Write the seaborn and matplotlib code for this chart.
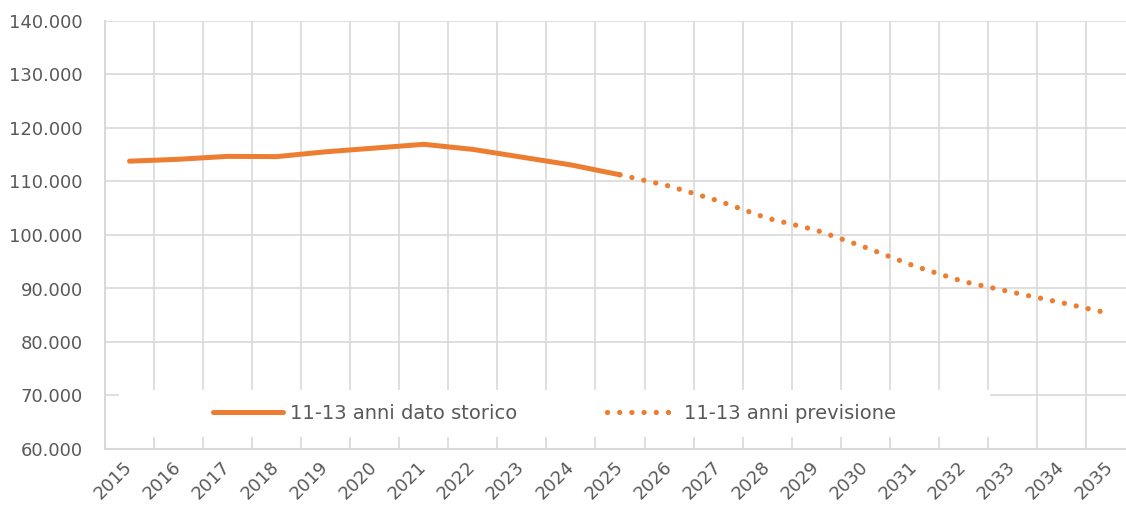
import matplotlib
matplotlib.use("Agg")
import matplotlib.pyplot as plt
import matplotlib.ticker as mticker
from matplotlib.patches import Rectangle
import pandas as pd
import seaborn as sns

# data
years_hist = [2015, 2016, 2017, 2018, 2019, 2020, 2021, 2022, 2023, 2024, 2025]
hist = [113800, 114150, 114700, 114650, 115550, 116250, 116950, 116000, 114550, 113100, 111250]
years_prev = [2025, 2026, 2027, 2028, 2029, 2030, 2031, 2032, 2033, 2034, 2035]
prev = [111250, 109150, 106400, 103150, 100900, 97700, 94200, 91300, 89300, 87350, 85300]
label_hist = "11-13 anni dato storico"
label_prev = "11-13 anni previsione"
all_years = list(range(2015, 2036))

df_hist = pd.DataFrame({"anno": years_hist, "valore": hist})
df_prev = pd.DataFrame({"anno": years_prev, "valore": prev})

sns.set_theme(style="white")
plt.rcParams["font.family"] = ["DejaVu Sans"]

orange = "#ED7D31"
grid_c = "#D9D9D9"
text_c = "#595959"

fig = plt.figure(figsize=(11.26, 5.11), dpi=100)
W, H = 1126, 511
ax = fig.add_axes([105 / W, (H - 449) / H, 1030 / W, 428 / H])

sns.lineplot(data=df_hist, x="anno", y="valore", ax=ax, color=orange,
             linewidth=3.6, solid_capstyle="round", label=label_hist, zorder=3)
sns.lineplot(data=df_prev, x="anno", y="valore", ax=ax, color=orange,
             linewidth=3.8, dashes=False, label=label_prev, zorder=3)
# make the forecast dotted
ln = ax.get_lines()[1]
ln.set_linestyle((0, (0.01, 2.3)))
ln.set_dash_capstyle("round")

ax.set_xlim(2014.5, 2035.5)
ax.set_ylim(60000, 140000)
ax.set_xticks(all_years)
ax.set_xticks([y + 0.5 for y in all_years[:-1]], minor=True)
ax.set_yticks(range(60000, 140001, 10000))
ax.yaxis.set_major_formatter(mticker.FuncFormatter(lambda v, p: f"{int(v):,}".replace(",", ".")))

ax.grid(False)
ax.grid(axis="y", which="major", color=grid_c, linewidth=1.2)
ax.grid(axis="x", which="minor", color=grid_c, linewidth=1.2)
ax.set_axisbelow(True)

for s in ["top", "right"]:
    ax.spines[s].set_visible(False)
for s in ["left", "bottom"]:
    ax.spines[s].set_color(grid_c)
    ax.spines[s].set_linewidth(1.5)

ax.tick_params(axis="both", which="both", length=0)
ax.tick_params(axis="y", labelsize=13, labelcolor=text_c, pad=16)
ax.tick_params(axis="x", labelsize=13, labelcolor=text_c, pad=11)
for lab in ax.get_xticklabels():
    lab.set_rotation(45)
    lab.set_ha("right")
    lab.set_va("center")
    lab.set_rotation_mode("anchor")

ax.set_xlabel("")
ax.set_ylabel("")

# white legend area covering the grid
x0, x1 = (119 - 105) / 1030, (990 - 105) / 1030
y0, y1 = (449 - 437) / 428, (449 - 390) / 428
ax.add_patch(Rectangle((x0, y0), x1 - x0, y1 - y0, transform=ax.transAxes,
                       facecolor="white", edgecolor="none", zorder=2))

leg = ax.legend(loc="center", bbox_to_anchor=((x0 + x1) / 2, (y0 + y1) / 2),
                ncol=2, frameon=False, fontsize=14, handlelength=3.6,
                handletextpad=0.35, columnspacing=4.6)
for t in leg.get_texts():
    t.set_color(text_c)
leg.set_zorder(4)

fig.savefig("out.png", dpi=100)
